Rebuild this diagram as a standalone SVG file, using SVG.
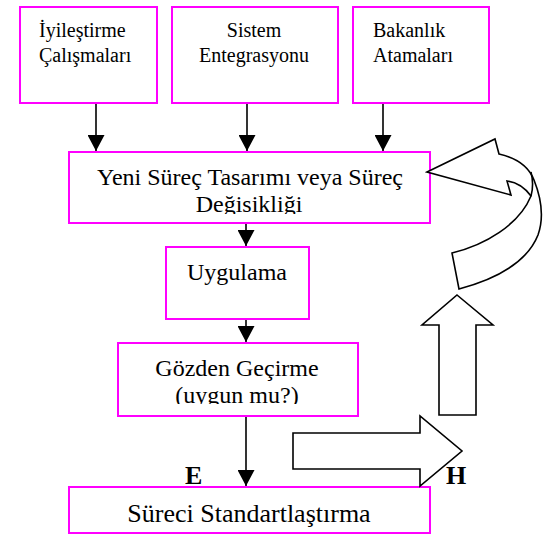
<svg xmlns="http://www.w3.org/2000/svg" width="553" height="535" viewBox="0 0 553 535">
  <defs>
    <style>
      .box { fill: #ffffff; stroke: #ff00ff; stroke-width: 2; }
      .t { font-family: "Liberation Serif", "Times New Roman", serif; fill: #000000; }
      .t20 { font-size: 20px; }
      .t24 { font-size: 24px; }
      .t26 { font-size: 26px; }
      .lbl { font-size: 26px; font-weight: bold; }
      .mid { text-anchor: middle; }
      .wire { stroke: #000000; stroke-width: 1.6; fill: none; }
      .block { fill: #ffffff; stroke: #000000; stroke-width: 1.6; stroke-linejoin: miter; }
    </style>
    <marker id="head" viewBox="0 0 16 17" refX="16" refY="8.5" markerWidth="16" markerHeight="17" markerUnits="userSpaceOnUse" orient="auto">
      <path d="M0,0 L16,8.5 L0,17 Z" fill="#000000"/>
    </marker>
    <clipPath id="clipYeni"><rect x="69" y="152" width="361" height="62"/></clipPath>
    <clipPath id="clipGozden"><rect x="118" y="343" width="240" height="61"/></clipPath>
  </defs>

  <!-- connectors -->
  <g id="connectors">
    <line class="wire" x1="96" y1="103" x2="96" y2="151" marker-end="url(#head)"/>
    <line class="wire" x1="247" y1="103" x2="247" y2="151" marker-end="url(#head)"/>
    <line class="wire" x1="383" y1="103" x2="383" y2="151" marker-end="url(#head)"/>
    <line class="wire" x1="246" y1="223" x2="246" y2="246" marker-end="url(#head)"/>
    <line class="wire" x1="246" y1="319" x2="246" y2="342" marker-end="url(#head)"/>
    <line class="wire" x1="246" y1="416" x2="246" y2="486" marker-end="url(#head)"/>
  </g>

  <!-- top sources -->
  <g id="iyilestirme">
    <rect class="box" x="20" y="7" width="137" height="96"/>
    <text class="t t20" x="39" y="37">İyileştirme</text>
    <text class="t t20" x="39" y="62">Çalışmaları</text>
  </g>
  <g id="sistem">
    <rect class="box" x="172" y="7" width="166" height="96"/>
    <text class="t t20 mid" x="254" y="37">Sistem</text>
    <text class="t t20 mid" x="254" y="62">Entegrasyonu</text>
  </g>
  <g id="bakanlik">
    <rect class="box" x="353" y="7" width="136" height="96"/>
    <text class="t t20" x="373" y="37">Bakanlık</text>
    <text class="t t20" x="373" y="62">Atamaları</text>
  </g>

  <!-- process steps -->
  <g id="yeni-surec">
    <rect class="box" x="69" y="152" width="361" height="71"/>
    <g clip-path="url(#clipYeni)">
      <text class="t t24 mid" x="250" y="185">Yeni Süreç Tasarımı veya Süreç</text>
      <text class="t t24 mid" x="249" y="212">Değisikliği</text>
    </g>
  </g>
  <g id="uygulama">
    <rect class="box" x="166" y="247" width="143" height="72"/>
    <text class="t t24 mid" x="237" y="280">Uygulama</text>
  </g>
  <g id="gozden-gecirme">
    <rect class="box" x="118" y="343" width="240" height="73"/>
    <g clip-path="url(#clipGozden)">
      <text class="t t24 mid" x="237" y="376">Gözden Geçirme</text>
      <text class="t t24 mid" x="237" y="403">(uygun mu?)</text>
    </g>
  </g>
  <g id="standartlastirma">
    <rect class="box" x="69" y="487" width="361" height="46"/>
    <text class="t t26 mid" x="249" y="522">Süreci Standartlaştırma</text>
  </g>

  <!-- E / H labels -->
  <g id="labels">
    <text class="t lbl" x="185" y="484">E</text>
    <text class="t lbl" x="446" y="484">H</text>
  </g>

  <!-- hollow block arrows of the feedback loop -->
  <g id="feedback">
    <polygon class="block" points="293,433 420,433 420,416 462,451 420,486 420,469 293,469"/>
    <polygon class="block" points="457,295 493,325 476,325 476,415 439,415 439,325 422,325"/>
    <path class="block" d="M427,172 L495,139 L499,154 C517,158 529,167 534,180 C540,195 545,215 538,235 C528,260 500,278 459,289 L452,253 C485,245 519,225 531,196 C525,188 516,182 507,181 L511,195 Z"/>
    <path class="wire" d="M531,196 C533,189 533,180 531,172"/>
  </g>
</svg>
